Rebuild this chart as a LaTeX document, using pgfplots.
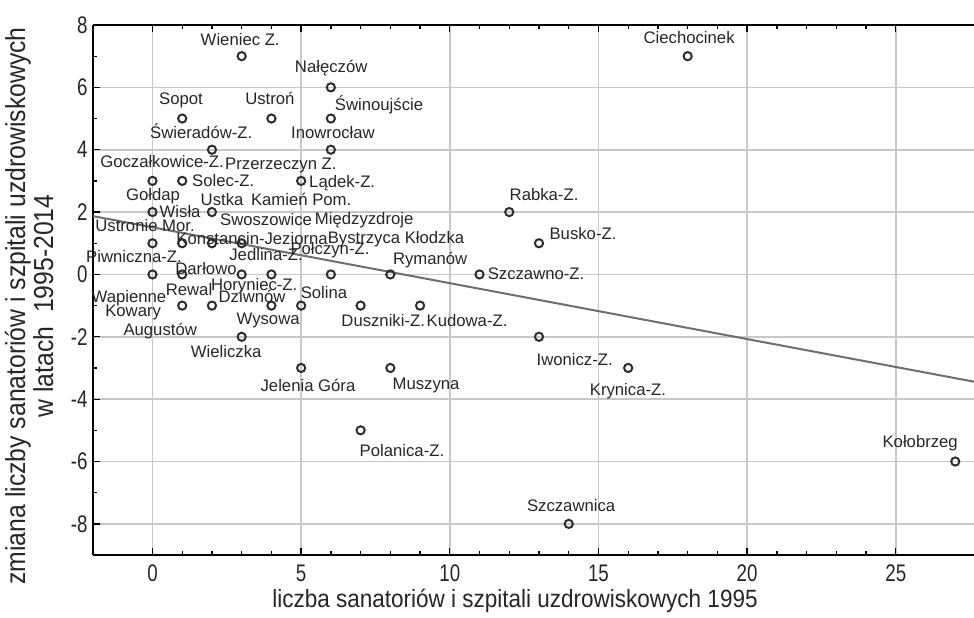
\documentclass[border=0pt]{standalone}
\usepackage{fontspec}
\setmainfont{Liberation Sans}
\newfontfamily\narrowticks[FakeStretch=0.78]{Liberation Sans}
\newfontfamily\narrowlab[FakeStretch=0.9]{Liberation Sans}
\usepackage{pgfplots}
\usepackage{pgfplotstable}
\pgfplotsset{compat=1.18}
\definecolor{mk}{HTML}{2E2E2E}
\definecolor{txt}{HTML}{262626}
\definecolor{reg}{HTML}{6E6E6E}
\definecolor{gridc}{HTML}{C8C8C8}

\pgfplotstableread[col sep=comma]{
x,y
3,7
18,7
6,6
1,5
4,5
6,5
2,4
6,4
0,3
1,3
5,3
0,2
2,2
12,2
0,1
1,1
2,1
3,1
13,1
0,0
1,0
3,0
4,0
6,0
8,0
11,0
1,-1
2,-1
4,-1
5,-1
7,-1
9,-1
3,-2
13,-2
5,-3
8,-3
16,-3
7,-5
27,-6
14,-8
}\points

\pgfplotstableread[col sep=comma]{
x,y,label
2.95,7.45,Wieniec Z.
6.01,6.58,Nałęczów
0.96,5.55,Sopot
3.95,5.55,Ustroń
7.62,5.36,Świnoujście
1.64,4.49,Świeradów-Z.
6.07,4.49,Inowrocław
0.32,3.56,Goczałkowice-Z.
2.38,2.95,Solec-Z.
4.32,3.47,Przerzeczyn Z.
6.38,2.89,Lądek-Z.
0.02,2.50,Gołdap
0.93,1.93,Wisła
2.34,2.34,Ustka
5.00,2.34,Kamień Pom.
3.82,1.70,Swoszowice
7.12,1.73,Międzyzdroje
-0.25,1.48,Ustronie Mor.
3.35,1.09,Konstancin-Jeziorna
8.19,1.12,Bystrzyca Kłodzka
5.97,0.74,Połczyn-Z.
-0.62,0.51,Piwniczna-Z.
3.82,0.55,Jedlina-Z.
9.34,0.42,Rymanów
1.80,0.10,Darłowo
12.90,-0.06,Szczawno-Z.
13.17,2.50,Rabka-Z.
14.48,1.25,Busko-Z.
3.42,-0.39,Horyniec-Z.
1.23,-0.55,Rewal
-0.79,-0.77,Wapienne
3.35,-0.80,Dziwnów
5.77,-0.67,Solina
-0.65,-1.22,Kowary
3.89,-1.48,Wysowa
0.26,-1.83,Augustów
2.48,-2.54,Wieliczka
7.76,-1.57,Duszniki-Z.
10.58,-1.57,Kudowa-Z.
14.20,-2.79,Iwonicz-Z.
15.99,-3.76,Krynica-Z.
5.23,-3.63,Jelenia Góra
9.20,-3.56,Muszyna
8.39,-5.71,Polanica-Z.
14.08,-7.48,Szczawnica
25.82,-5.43,Kołobrzeg
18.05,7.51,Ciechocinek
}\labels

\begin{document}
\begin{tikzpicture}
\begin{axis}[
  name=ax,
  scale only axis,
  width=880.9bp, height=530bp,
  xmin=-2, xmax=27.63,
  ymin=-9, ymax=8,
  axis x line*=box, axis y line*=left,
  axis line style={black, line width=1.6bp},
  xtick={0,5,...,25},
  ytick={-8,-6,...,8},
  minor x tick num=4,
  minor y tick num=1,
  tick align=inside,
  major tick length=7bp,
  minor tick length=4bp,
  every tick/.style={black, line width=1.3bp},
  grid=major,
  major grid style={draw=gridc, line width=1.6bp},
  /pgf/number format/assume math mode=true,
  ticklabel style={font=\narrowticks\fontsize{24bp}{26bp}\selectfont, text=txt},
  xticklabel style={yshift=-6bp},
  yticklabel style={xshift=-2bp},
  xlabel={liczba sanatoriów i szpitali uzdrowiskowych 1995},
  xlabel style={font=\narrowlab\fontsize{25bp}{28bp}\selectfont, text=txt,
    at={(axis description cs:0.479,-0.058)}, anchor=north},
  ylabel={zmiana liczby sanatoriów i szpitali uzdrowiskowych\\w latach\ \ 1995-2014},
  ylabel style={font=\narrowlab\fontsize{27.5bp}{28bp}\selectfont, text=txt, align=center,
    at={(axis description cs:-0.041,0.47)}, anchor=south},
]
\addplot[reg, line width=2bp] coordinates {(-2,1.87) (27.63,-3.44)};
\addplot[only marks, mark=o, mark size=4.1bp, mark options={mk, line width=2bp}] table[x=x,y=y] {\points};
\addplot[only marks, mark=*, mark size=0pt, mark options={draw=none, fill=none},
  nodes near coords, point meta=explicit symbolic,
  nodes near coords style={anchor=center, inner sep=0pt, text=txt,
    font=\fontsize{16.7bp}{19bp}\selectfont, text height=0.72em, text depth=0pt}]
  table[x=x,y=y,meta=label] {\labels};
\end{axis}
\pgfresetboundingbox
\path ([xshift=-93bp,yshift=-62bp]ax.south west) rectangle ([yshift=25bp]ax.north east);
\end{tikzpicture}
\end{document}
